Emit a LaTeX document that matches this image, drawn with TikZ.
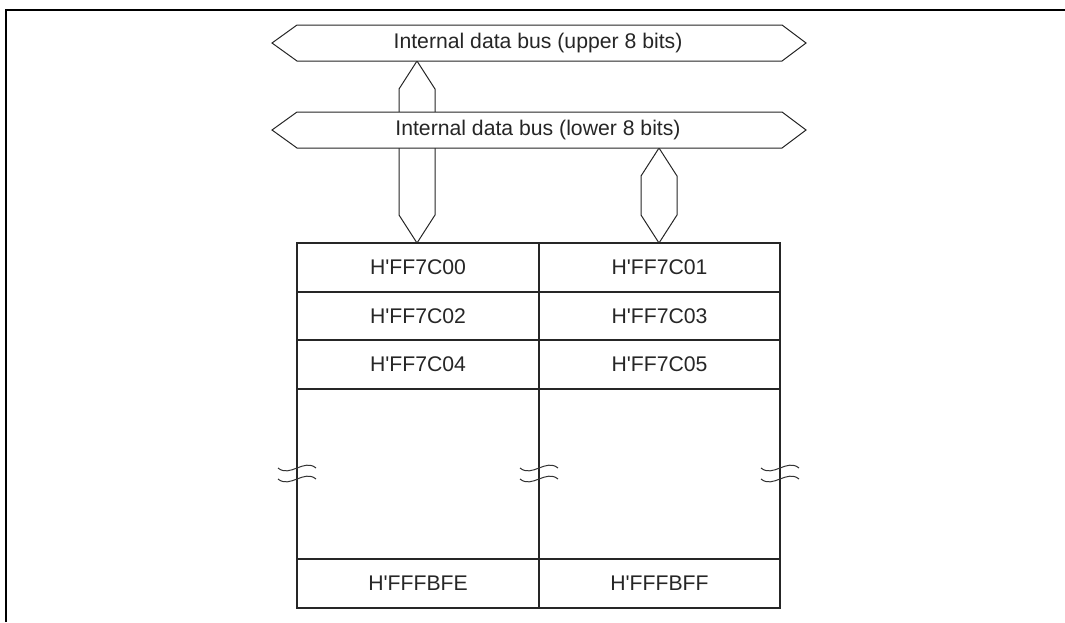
\documentclass[tikz,border=0pt]{standalone}
\usepackage{fontspec}
\newfontfamily\labfont{Liberation Sans}
\begin{document}
\begin{tikzpicture}[x=1pt,y=-1pt,
  busline/.style={draw=black!85, line width=1pt, fill=white, line join=miter},
  tabline/.style={draw=black!85, line width=1.4pt},
  brk/.style={draw=black!80, line width=1pt, fill=none},
  lbl/.style={font=\labfont\fontsize{21.2}{25}\selectfont, text=black!85, inner sep=0pt},
  framel/.style={draw=black, line width=2.5pt}]
\useasboundingbox (0,0) rectangle (1065,622);
\draw[framel] (6,622) -- (6,10) -- (1065,10);

% vertical bus connectors (drawn first, covered by buses)
\draw[busline] (417,61) -- (435,89) -- (435,215) -- (417,243) -- (399,215) -- (399,89) -- cycle;
\draw[busline] (659,148) -- (677,176) -- (677,215) -- (659,243) -- (641,215) -- (641,176) -- cycle;

% buses
\draw[busline] (272,43) -- (297,25) -- (782,25) -- (806,43) -- (782,61) -- (297,61) -- cycle;
\node[lbl] (ubus) at (538,43) {Internal data bus (upper 8 bits)};
\draw[busline] (272,130) -- (297,112) -- (782,112) -- (806,130) -- (782,148) -- (297,148) -- cycle;
\node[lbl] (lbus) at (538,130) {Internal data bus (lower 8 bits)};

% memory table
\draw[tabline] (297,243) rectangle (780,608);
\draw[tabline] (539,243) -- (539,608);
\foreach \yy in {292,340,389,559} \draw[tabline] (297,\yy) -- (780,\yy);

\node[lbl] (c00) at (418,267.5) {H'FF7C00};
\node[lbl] (c01) at (659.5,267.5) {H'FF7C01};
\node[lbl] (c02) at (418,316) {H'FF7C02};
\node[lbl] (c03) at (659.5,316) {H'FF7C03};
\node[lbl] (c04) at (418,364.5) {H'FF7C04};
\node[lbl] (c05) at (659.5,364.5) {H'FF7C05};
\node[lbl] (cfe) at (418,583.5) {H'FFFBFE};
\node[lbl] (cff) at (659.5,583.5) {H'FFFBFF};

% break marks
\foreach \xx in {297,539,780}{
  \foreach \yy in {468,479}{
    \draw[brk] (\xx-19,\yy) .. controls (\xx-7,\yy+10) and (\xx+7,\yy-10) .. (\xx+19,\yy);
  }
}
\end{tikzpicture}
\end{document}
